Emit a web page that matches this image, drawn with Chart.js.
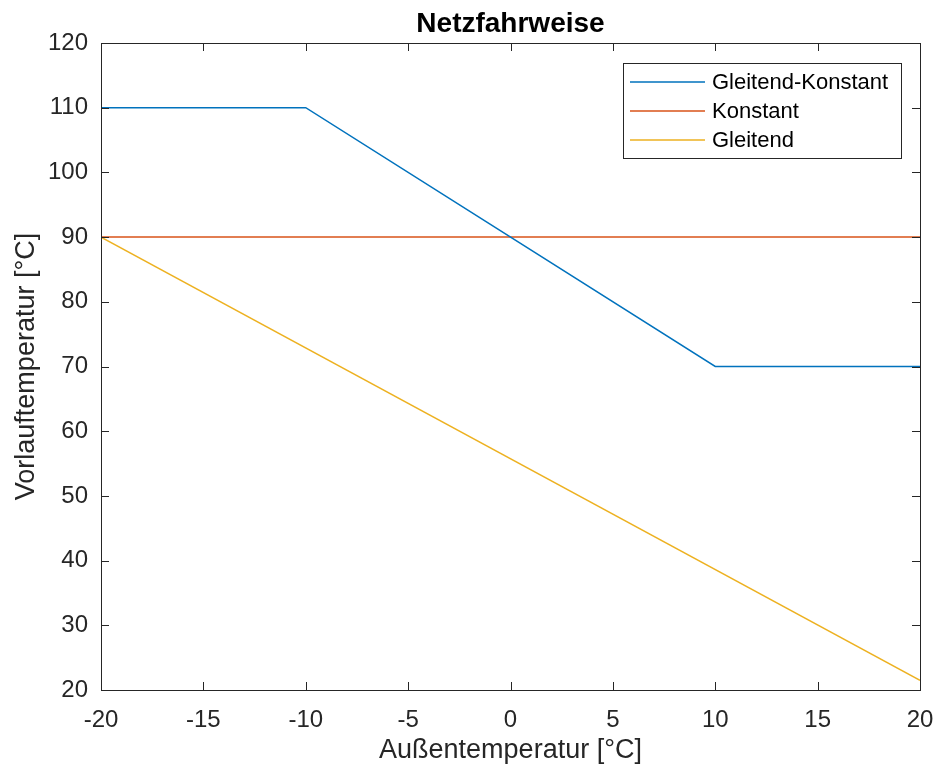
<!DOCTYPE html>
<html>
<head>
<meta charset="utf-8">
<script src="https://cdn.jsdelivr.net/npm/chart.js@4"></script>
<style>
  html, body { margin: 0; padding: 0; background: #fff; }
  #wrap { width: 937px; height: 772px; }
</style>
</head>
<body>
<div id="wrap"><canvas id="chart" width="937" height="772"></canvas></div>
<script>
// data
const seriesLabels = ["Gleitend-Konstant", "Konstant", "Gleitend"];
const gleitKonstX = [-20, -10, 10, 20];
const gleitKonstY = [110, 110, 70, 70];
const konstantX = [-20, 20];
const konstantY = [90, 90];
const gleitendX = [-20, 20];
const gleitendY = [90, 21.5];
const xTicks = [-20, -15, -10, -5, 0, 5, 10, 15, 20];
const yTicks = [20, 30, 40, 50, 60, 70, 80, 90, 100, 110, 120];

const colors = ["#0072BD", "#D95319", "#EDB120"];
const axisColor = "#262626";
const fontFam = "'Liberation Sans', Arial, Helvetica, sans-serif";

function toPoints(xs, ys) {
    return xs.map((x, i) => ({ x: x, y: ys[i] }));
}

// box round the plot plus inward ticks, MATLAB style
const boxPlugin = {
    id: "box",
    afterDatasetsDraw(chart) {
        const { ctx, chartArea: a, scales } = chart;
        ctx.save();
        ctx.strokeStyle = axisColor;
        ctx.lineWidth = 1;
        ctx.strokeRect(a.left + 0.5, a.top + 0.5, a.right - a.left, a.bottom - a.top);
        const len = 8;
        ctx.beginPath();
        xTicks.forEach(v => {
            const px = Math.round(scales.x.getPixelForValue(v)) + 0.5;
            ctx.moveTo(px, a.bottom);
            ctx.lineTo(px, a.bottom - len);
            ctx.moveTo(px, a.top);
            ctx.lineTo(px, a.top + len);
        });
        yTicks.forEach(v => {
            const py = Math.round(scales.y.getPixelForValue(v)) + 0.5;
            ctx.moveTo(a.left, py);
            ctx.lineTo(a.left + len, py);
            ctx.moveTo(a.right, py);
            ctx.lineTo(a.right - len, py);
        });
        ctx.stroke();

        // legend box inside the plot
        const lx = 623, ly = 63, lw = 278, lh = 95;
        ctx.fillStyle = "#fff";
        ctx.fillRect(lx, ly, lw, lh);
        ctx.strokeStyle = axisColor;
        ctx.strokeRect(lx + 0.5, ly + 0.5, lw, lh);
        ctx.font = "22px " + fontFam;
        ctx.textBaseline = "middle";
        ctx.textAlign = "left";
        const rows = [82, 111, 140];
        chart.data.datasets.forEach((ds, i) => {
            ctx.strokeStyle = ds.borderColor;
            ctx.lineWidth = 1.5;
            ctx.beginPath();
            ctx.moveTo(630, rows[i]);
            ctx.lineTo(705, rows[i]);
            ctx.stroke();
            ctx.fillStyle = "#000";
            ctx.fillText(ds.label, 712, rows[i] + 1);
        });

        // title
        ctx.fillStyle = "#000";
        ctx.font = "bold 28px " + fontFam;
        ctx.textAlign = "center";
        ctx.fillText("Netzfahrweise", (a.left + a.right) / 2, 24);
        ctx.restore();
    }
};

const data = {
    datasets: [
        { label: seriesLabels[0], data: toPoints(gleitKonstX, gleitKonstY), borderColor: colors[0] },
        { label: seriesLabels[1], data: toPoints(konstantX, konstantY), borderColor: colors[1] },
        { label: seriesLabels[2], data: toPoints(gleitendX, gleitendY), borderColor: colors[2] },
    ].map(d => Object.assign(d, { borderWidth: 1.5, pointRadius: 0, fill: false, tension: 0 })),
};

const config = {
    type: "line",
    data,
    plugins: [boxPlugin],
    options: {
        responsive: false,
        animation: false,
        layout: { padding: { top: 43, right: 17, left: 0, bottom: 0 } },
        scales: {
            x: {
                type: "linear",
                min: -20,
                max: 20,
                afterBuildTicks: s => { s.ticks = xTicks.map(v => ({ value: v })); },
                afterFit: s => { s.height = 82; s.paddingLeft = 0; s.paddingRight = 0; },
                grid: { display: false, drawTicks: false },
                border: { display: false },
                ticks: { color: axisColor, padding: 16, maxRotation: 0, font: { size: 24, family: fontFam } },
                title: { display: true, text: "Außentemperatur [°C]", color: axisColor, padding: { top: 4, bottom: 5 }, font: { size: 27, family: fontFam } },
            },
            y: {
                min: 20,
                max: 120,
                afterBuildTicks: s => { s.ticks = yTicks.map(v => ({ value: v })); },
                afterFit: s => { s.width = 101; s.paddingTop = 0; s.paddingBottom = 0; },
                grid: { display: false, drawTicks: false },
                border: { display: false },
                ticks: { color: axisColor, padding: 13, font: { size: 24, family: fontFam } },
                title: { display: true, text: "Vorlauftemperatur [°C]", color: axisColor, padding: { top: 10, bottom: 0 }, font: { size: 27, family: fontFam } },
            },
        },
        plugins: {
            legend: { display: false },
            tooltip: { enabled: false },
            title: { display: false },
        },
    },
};

const myChart = new Chart(document.getElementById("chart"), config);
</script>
</body>
</html>
